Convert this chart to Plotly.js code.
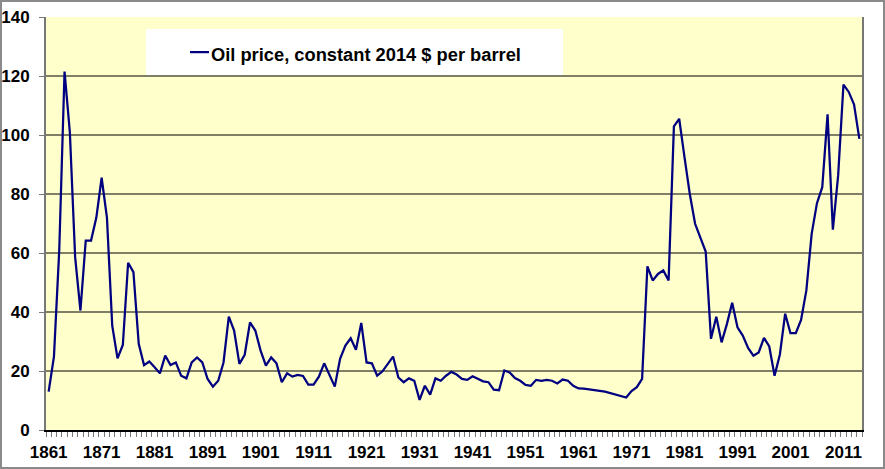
<!DOCTYPE html>
<html>
<head>
<meta charset="utf-8">
<script src="https://cdn.plot.ly/plotly-3.0.1.min.js"></script>
<style>
  html, body { margin: 0; padding: 0; background: #ffffff; }
  #frame { width: 885px; height: 469px; box-sizing: border-box; border: 2px solid #8a8a8a; background: #ffffff; }
  #chart { width: 881px; height: 465px; }
</style>
</head>
<body>
<div id="frame"><div id="chart"></div></div>
<script>
// ---- data (constant 2014 $ per barrel) ----
const firstYear = 1861;
const prices1861to1900 = [13.0, 24.9, 61.0, 121.5, 101.0, 58.6, 40.5, 64.2, 64.2, 72.0,
  85.5, 72.0, 35.4, 24.3, 28.8, 56.7, 53.5, 29.2, 22.0, 23.2,
  21.3, 19.2, 25.2, 22.0, 22.9, 18.4, 17.5, 22.9, 24.6, 22.9,
  17.3, 14.7, 16.7, 22.9, 38.4, 33.7, 22.4, 25.5, 36.5, 33.7];
const prices1901to1940 = [26.9, 21.8, 24.6, 22.6, 16.2, 19.2, 18.1, 18.7, 18.3, 15.4,
  15.4, 18.1, 22.6, 18.8, 14.7, 24.1, 28.6, 31.1, 27.2, 36.3,
  22.9, 22.6, 18.4, 19.9, 22.4, 24.9, 17.8, 16.2, 17.5, 16.7,
  10.2, 15.0, 12.0, 17.5, 16.7, 18.4, 19.7, 18.8, 17.3, 17.0];
const prices1941to1980 = [18.2, 17.3, 16.5, 16.2, 13.7, 13.5, 20.2, 19.5, 17.6, 16.7,
  15.3, 15.0, 17.0, 16.7, 17.0, 16.7, 15.8, 17.1, 16.7, 15.0,
  14.1, 14.0, 13.8, 13.7, 13.3, 13.0, 12.5, 12.0, 11.6, 11.0,
  13.2, 14.5, 17.3, 55.5, 50.7, 52.9, 54.1, 50.7, 102.9, 105.5];
const prices1981to2014 = [92.5, 80.0, 69.9, 65.4, 60.5, 30.9, 38.4, 29.7, 35.9, 43.1,
  34.8, 32.0, 27.8, 25.2, 26.3, 31.2, 28.3, 18.4, 25.6, 39.4,
  32.8, 32.8, 37.3, 47.3, 66.5, 76.9, 82.3, 107.0, 67.9, 86.3,
  117.1, 114.6, 110.3, 98.7];
const prices = prices1861to1900.concat(prices1901to1940, prices1941to1980, prices1981to2014);
const years = prices.map((_, i) => firstYear + i);
const seriesName = 'Oil price, constant 2014 $ per barrel';
const yTickValues = [0, 20, 40, 60, 80, 100, 120, 140];

// ---- styling ----
const FONT = 'Arial, "Liberation Sans", sans-serif';
const TICKFONT = { family: FONT, size: 17, color: '#000000', weight: 'bold' };

const trace = {
  x: years,
  y: prices,
  type: 'scatter',
  mode: 'lines',
  name: seriesName,
  line: { color: '#000080', width: 2.25 },
  showlegend: false,
  hoverinfo: 'x+y'
};

const layout = {
  width: 881,
  height: 465,
  margin: { l: 44, r: 21, t: 15, b: 37 },
  paper_bgcolor: '#ffffff',
  plot_bgcolor: '#ffffcc',
  font: { family: FONT, size: 17, color: '#000000', weight: 'bold' },
  showlegend: false,
  xaxis: {
    range: [1860.5, 2014.5],
    tickmode: 'linear',
    tick0: 1861,
    dtick: 10,
    ticks: '',
    ticklabelstandoff: 6,
    showgrid: false,
    zeroline: false,
    showline: true,
    linecolor: '#000000',
    linewidth: 2,
    tickfont: TICKFONT,
    minor: { tick0: 1860.5, dtick: 1, ticks: 'outside', ticklen: 5, tickcolor: '#777777', tickwidth: 1, showgrid: false }
  },
  yaxis: {
    range: [0, 140],
    tickmode: 'array',
    tickvals: yTickValues,
    ticks: 'outside',
    ticklen: 5,
    tickcolor: '#777777',
    ticklabelstandoff: 6,
    showgrid: true,
    gridcolor: '#7f7f68',
    gridwidth: 2,
    zeroline: false,
    showline: true,
    mirror: true,
    linecolor: '#777777',
    linewidth: 2,
    tickfont: TICKFONT
  },
  shapes: [
    { type: 'rect', xref: 'paper', yref: 'paper', x0: 0.1225, x1: 0.6336, y0: 0.8596, y1: 0.971,
      fillcolor: '#ffffff', line: { width: 0 }, layer: 'above' },
    { type: 'line', xref: 'paper', yref: 'paper', x0: 0.1765, x1: 0.1998, y0: 0.915, y1: 0.915,
      line: { color: '#000080', width: 2.25 }, layer: 'above' }
  ],
  annotations: [
    { xref: 'paper', yref: 'paper', x: 0.1995, y: 0.9087, xanchor: 'left', yanchor: 'middle',
      text: seriesName, showarrow: false,
      font: { family: FONT, size: 18.3, color: '#000000', weight: 'bold' } }
  ]
};

Plotly.newPlot('chart', [trace], layout, { staticPlot: true, displayModeBar: false });
</script>
</body>
</html>
